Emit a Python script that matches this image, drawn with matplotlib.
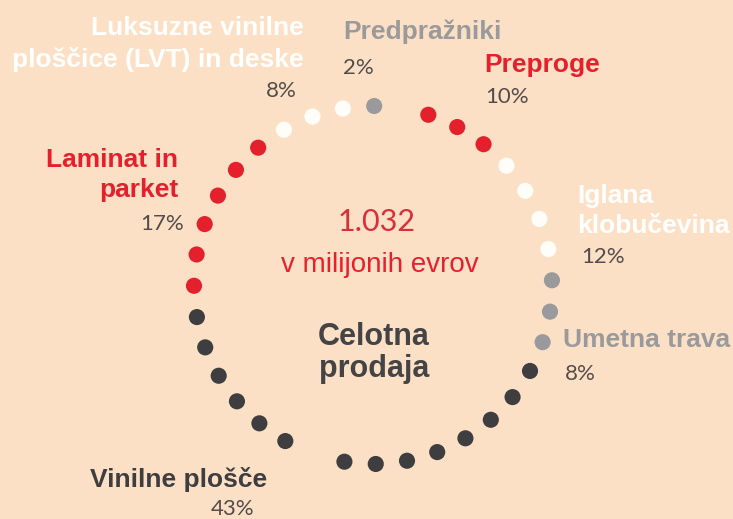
'''
Celotna prodaja - krog iz pik po kategorijah
'''
import numpy as np
import matplotlib.pyplot as plt

# kategorije v smeri urinega kazalca, od vrha desno
categories = ['Preproge', 'Iglana klobučevina', 'Umetna trava', 'Vinilne plošče',
              'Laminat in parket', 'Luksuzne vinilne ploščice (LVT) in deske', 'Predpražniki']
shares = [10, 12, 8, 43, 17, 8, 2]
dot_counts = [3, 4, 3, 15, 6, 3, 1]
skipped_dots = {3: [8]}          # ena pika pri vinilnih ploščah manjka
total = '1.032'
unit = 'v milijonih evrov'

bg = '#FBE0C5'
red = '#E3202B'
dark = '#3E3E41'
gray = '#9A9A9C'
white = '#FFFDF8'
pct_color = '#554B4B'
dot_colors = [red, white, gray, dark, red, white, gray]

# postavitev oznak: vrstice imena, barva, poravnava, x, baseline vrstic, x in baseline odstotka
labels = [
    (['Preproge'], red, 'left', 484, [72], 485, 103),
    (['Iglana', 'klobučevina'], 'white', 'left', 577, [203, 233], 581, 263),
    (['Umetna trava'], gray, 'left', 563, [347], 565, 380),
    (['Vinilne plošče'], dark, 'left', 90, [487], 211, 515),
    (['Laminat in', 'parket'], red, 'right', 178, [167, 197], 184, 230),
    (['Luksuzne vinilne', 'ploščice (LVT) in deske'], 'white', 'right', 304, [35, 67], 297, 97),
    (['Predpražniki'], gray, 'left', 343, [39], 343, 74),
]

fig = plt.figure(figsize=(7.33, 5.19), dpi=100)
fig.patch.set_facecolor(bg)
ax = fig.add_axes([0, 0, 1, 1])
ax.set_xlim(0, 733)
ax.set_ylim(519, 0)
ax.set_aspect('equal')
ax.axis('off')

# pike po krogu
cx, cy, r = 373, 285, 179
start, step = 18.0, 10.07
slot = 0
for i, n in enumerate(dot_counts):
    for j in range(n):
        if j not in skipped_dots.get(i, []):
            a = np.radians(start + slot * step)
            ax.scatter(cx + r * np.sin(a), cy - r * np.cos(a), s=135,
                       color=dot_colors[i], edgecolors='none', zorder=3)
        slot += 1

# oznake
lab_font = dict(family=['Liberation Sans', 'DejaVu Sans'], fontweight='bold', fontsize=19)
pct_font = dict(family=['Lato', 'DejaVu Sans'], fontweight='normal', fontsize=16)
for (lines, col, ha, x, ys, px, py), share in zip(labels, shares):
    for line, y in zip(lines, ys):
        ax.text(x, y, line, color=col, ha=ha, va='baseline', **lab_font)
    ax.text(px, py, f'{share}%', color=pct_color, ha=ha, va='baseline', **pct_font)

# sredina
ax.text(377, 231, total, color='#D8303B', ha='center', va='baseline',
        family=['Lato', 'DejaVu Sans'], fontweight='normal', fontsize=22)
ax.text(380, 272, unit, color='#E6202C', ha='center', va='baseline',
        family=['Liberation Sans', 'DejaVu Sans'], fontsize=20)
ax.text(374, 345, 'Celotna', color='#444446', ha='center', va='baseline', **dict(lab_font, fontsize=22))
ax.text(374, 377, 'prodaja', color='#444446', ha='center', va='baseline', **dict(lab_font, fontsize=22))

fig.savefig('out.png', dpi=100, facecolor=bg)
